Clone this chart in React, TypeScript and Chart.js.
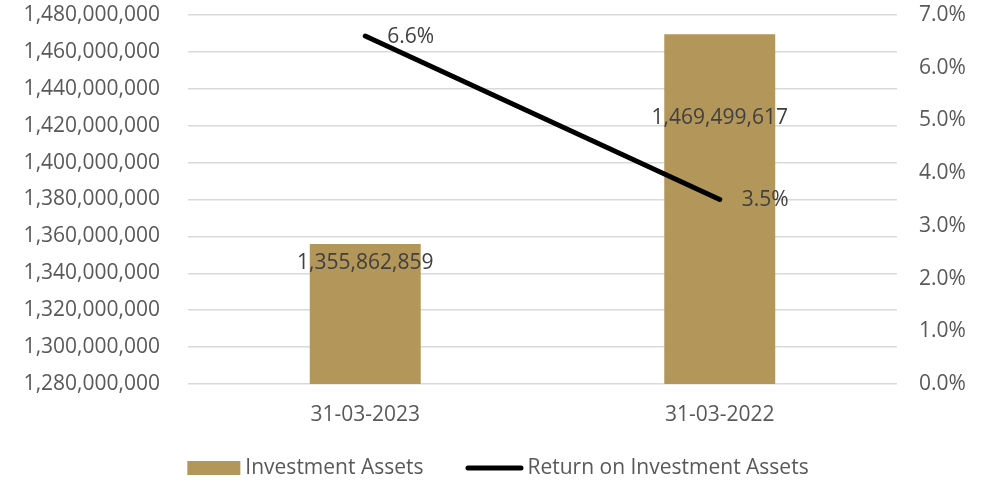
import React, { useEffect, useRef } from "react";
import { Chart, registerables } from "chart.js";

Chart.register(...registerables);

const categories = ["31-03-2023", "31-03-2022"];
const investmentAssets = [1355862859, 1469499617];
const returnOnAssets = [6.6, 3.5];
const seriesNames = ["Investment Assets", "Return on Investment Assets"];

const FONT = "'Open Sans', sans-serif";
const FONT_SIZE = 21;
const BAR_COLOR = "#B39659";
const TEXT_COLOR = "#595959";
const LABEL_COLOR = "#404040";
const barLabelOffsets = [19, 84];

const fmtInt = (v: number) => v.toLocaleString("en-US");

const labelPlugin = {
  id: "valueLabels",
  afterDatasetsDraw(chart: any) {
    const ctx = chart.ctx;
    ctx.save();
    ctx.font = `${FONT_SIZE}px ${FONT}`;
    ctx.fillStyle = LABEL_COLOR;
    ctx.textBaseline = "middle";
    const barMeta = chart.getDatasetMeta(0);
    barMeta.data.forEach((el: any, i: number) => {
      ctx.textAlign = "center";
      ctx.fillText(fmtInt(investmentAssets[i]), el.x, el.y + barLabelOffsets[i]);
    });
    const lineMeta = chart.getDatasetMeta(1);
    lineMeta.data.forEach((el: any, i: number) => {
      ctx.textAlign = "left";
      ctx.fillText(returnOnAssets[i].toFixed(1) + "%", el.x + 22, el.y + 1);
    });
    ctx.restore();
  },
};

const legendPlugin = {
  id: "customLegend",
  afterDraw(chart: any) {
    const ctx = chart.ctx;
    ctx.save();
    ctx.font = `${FONT_SIZE}px ${FONT}`;
    ctx.textBaseline = "middle";
    ctx.textAlign = "left";
    const y = 468;
    const sw1 = 53, gapText1 = 5, gapItems = 42, sw2 = 58, gapText2 = 4;
    const tw1 = ctx.measureText(seriesNames[0]).width;
    const tw2 = ctx.measureText(seriesNames[1]).width;
    const total = sw1 + gapText1 + tw1 + gapItems + sw2 + gapText2 + tw2;
    let x = chart.width / 2 + 3 - total / 2;
    ctx.fillStyle = BAR_COLOR;
    ctx.fillRect(x, y - 7, sw1, 14);
    x += sw1 + gapText1;
    ctx.fillStyle = TEXT_COLOR;
    ctx.fillText(seriesNames[0], x, y);
    x += tw1 + gapItems;
    ctx.strokeStyle = "#000000";
    ctx.lineWidth = 5;
    ctx.lineCap = "round";
    ctx.beginPath();
    ctx.moveTo(x + 2.5, y);
    ctx.lineTo(x + sw2 - 2.5, y);
    ctx.stroke();
    x += sw2 + gapText2;
    ctx.fillText(seriesNames[1], x, y);
    ctx.restore();
  },
};

export default function App() {
  const ref = useRef<HTMLCanvasElement>(null);
  useEffect(() => {
    document.body.style.margin = "0";
    const chart = new Chart(ref.current!, {
      type: "bar",
      data: {
        labels: categories,
        datasets: [
          {
            type: "bar",
            label: seriesNames[0],
            data: investmentAssets,
            backgroundColor: BAR_COLOR,
            yAxisID: "y",
            order: 2,
            barPercentage: 0.626,
            categoryPercentage: 0.5,
          } as any,
          {
            type: "line",
            label: seriesNames[1],
            data: returnOnAssets,
            borderColor: "#000000",
            backgroundColor: "#000000",
            borderWidth: 5,
            pointRadius: 0,
            borderCapStyle: "round",
            yAxisID: "y1",
            order: 1,
          } as any,
        ],
      },
      options: {
        animation: false,
        responsive: false,
        layout: { padding: { top: 15, bottom: 56, left: 0, right: 0 } },
        plugins: {
          tooltip: { enabled: false },
          legend: { display: false },
        },
        scales: {
          x: {
            grid: { display: false, drawTicks: false },
            border: { display: false },
            ticks: { color: TEXT_COLOR, font: { family: FONT, size: FONT_SIZE }, padding: 18 },
            afterFit: (s: any) => { s.height = 40; },
          },
          y: {
            position: "left",
            min: 1280000000,
            max: 1480000000,
            ticks: {
              stepSize: 20000000,
              color: TEXT_COLOR,
              font: { family: FONT, size: FONT_SIZE },
              padding: 28,
              callback: (v: any) => fmtInt(Number(v)),
            },
            grid: { color: "#D9D9D9", lineWidth: 1.5, drawTicks: false },
            border: { display: false },
            afterFit: (s: any) => { s.width = 188; s.paddingTop = 0; s.paddingBottom = 0; },
          },
          y1: {
            position: "right",
            min: 0,
            max: 7,
            ticks: {
              stepSize: 1,
              color: TEXT_COLOR,
              font: { family: FONT, size: FONT_SIZE },
              padding: 22,
              callback: (v: any) => Number(v).toFixed(1) + "%",
            },
            grid: { display: false, drawTicks: false },
            border: { display: false },
            afterFit: (s: any) => { s.width = 93; s.paddingTop = 0; s.paddingBottom = 0; },
          },
        },
      } as any,
      plugins: [labelPlugin, legendPlugin],
    });
    return () => chart.destroy();
  }, []);
  return (
    <div style={{ position: "absolute", left: 0, top: 0, width: 990, height: 480, background: "#fff" }}>
      <canvas ref={ref} width={990} height={480} />
    </div>
  );
}
